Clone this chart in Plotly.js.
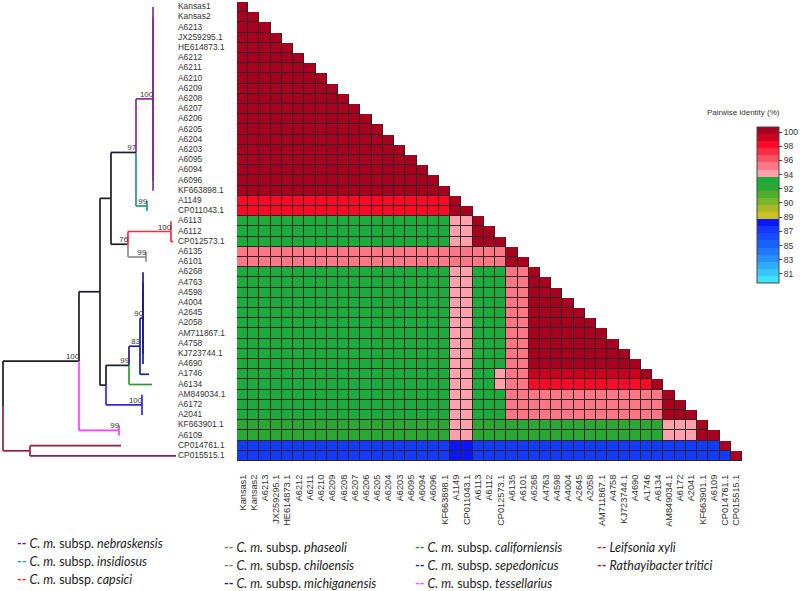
<!DOCTYPE html>
<html>
<head>
<meta charset="utf-8">
<script src="https://cdn.plot.ly/plotly-3.0.1.min.js"></script>
<style>html,body{margin:0;padding:0;background:#fff;}#chart{width:800px;height:591px;}</style>
</head>
<body>
<div id="chart"></div>
<script>
// ---------------- DATA ----------------
const strains = ['Kansas1','Kansas2','A6213','JX259295.1','HE614873.1','A6212','A6211','A6210','A6209','A6208',
  'A6207','A6206','A6205','A6204','A6203','A6095','A6094','A6096','KF663898.1','A1149','CP011043.1',
  'A6113','A6112','CP012573.1','A6135','A6101','A6268','A4763','A4598','A4004','A2645','A2058',
  'AM711867.1','A4758','KJ723744.1','A4690','A1746','A6134','AM849034.1','A6172','A2041',
  'KF663901.1','A6109','CP014761.1','CP015515.1'];

// pairwise identity codes, one string per row (lower triangle)
const identityCode = {D:100, d:99.2, R:98.3, S:95.5, P:94.5, G:93.5, g:92.6, B:87.9, b:86.9};
const identityRows = [
 'D',
 'DD',
 'DDD',
 'DDDD',
 'DDDDD',
 'DDDDD D',
 'DDDDD DD',
 'DDDDD DDD',
 'DDDDD DDDD',
 'DDDDD DDDDD',
 'DDDDD DDDDD D',
 'DDDDD DDDDD DD',
 'DDDDD DDDDD DDD',
 'DDDDD DDDDD DDDD',
 'DDDDD DDDDD DDDDD',
 'DDDDD DDDDD DDDDD D',
 'DDDDD DDDDD DDDDD DD',
 'DDDDD DDDDD DDDDD DDD',
 'DDDDD DDDDD DDDDD DDDD',
 'RRRRR RRRRR RRRRR RRRR D',
 'RRRRR RRRRR RRRRR RRRR DD',
 'GGGGG GGGGG GGGGG GGGG PP D',
 'GGGGG GGGGG GGGGG GGGG PP DD',
 'GGGGG GGGGG GGGGG GGGG PP DDD',
 'SSSSS SSSSS SSSSS SSSS SS SSS D',
 'SSSSS SSSSS SSSSS SSSS SS SSS DD',
 'GGGGG GGGGG GGGGG GGGG PP GGG SS D',
 'GGGGG GGGGG GGGGG GGGG PP GGG SS DD',
 'GGGGG GGGGG GGGGG GGGG PP GGG SS DDD',
 'GGGGG GGGGG GGGGG GGGG PP GGG SS DDDD',
 'GGGGG GGGGG GGGGG GGGG PP GGG SS DDDDD',
 'GGGGG GGGGG GGGGG GGGG PP GGG SS DDDDD D',
 'GGGGG GGGGG GGGGG GGGG PP GGG SS DDDDD DD',
 'GGGGG GGGGG GGGGG GGGG PP GGG SS DDDDD DDD',
 'GGGGG GGGGG GGGGG GGGG PP GGG SS DDDDD DDDD',
 'GGGGG GGGGG GGGGG GGGG PP GGG SS DDDDD DDDDD',
 'GGGGG GGGGG GGGGG GGGG PP GG P SS ddddd ddddd D',
 'GGGGG GGGGG GGGGG GGGG PP GG P SS RRRRR RRRRR R D',
 'GGGGG GGGGG GGGGG GGGG PP GGG SS SSSSS SSSSS SS D',
 'GGGGG GGGGG GGGGG GGGG PP GGG SS SSSSS SSSSS SS DD',
 'GGGGG GGGGG GGGGG GGGG PP GGG SS SSSSS SSSSS SS DDD',
 'ggggg ggggg ggggg gggg PP ggg gg ggggg ggggg gg PPP D',
 'ggggg ggggg ggggg gggg PP ggg gg ggggg ggggg gg PPP DD',
 'bbbbb bbbbb bbbbb bbbb BB bbb bb bbbbb bbbbb bb bbb bb D',
 'bbbbb bbbbb bbbbb bbbb BB bbb bb bbbbb bbbbb bb bbb bb b D'
];

// colour scale (22 bins, bottom to top) and its tick labels
const binColors = ['#3fe4ff','#37c6ff','#2faaff','#278fff','#2078ff','#1a62ff','#164dff','#1439ff','#0a16ff',
  '#c9c21f','#a9b923','#7db52a','#4fae30','#2ba833','#1aad3c',
  '#ffa1ac','#ff7686','#ff5265','#ff2c42','#ff0a26','#cc001f','#a9001f'];
const zMin = 79.78, zMax = 100.68;
const cbTickVals = [100, 98.1, 96.2, 94.3, 92.4, 90.5, 88.6, 86.7, 84.8, 82.9, 81.0];
const cbTickText = ['100','98','96','94','92','90','89','87','85','83','81'];

// tree: internal nodes
const treeNodes       = ['N','I','NI','C','P','CP','A','M90','M83','M99','S','Sep','B','T','R1','O','root'];
const treeNodeParent  = ['NI','NI','A','CP','CP','A','B','M83','M99','S','B','S','R1','R1','root','root',''];
const treeNodeDepth   = [153,147,136,171,146,128,111,143,140,129,106,142,100,119,79,30,3];
const treeNodeClade   = ['neb','ins','bb','cap','pha','bb','bb','mich','mich','bb','bb','sep','bb','tes','bb','out','bb'];
const treeNodeSupport = ['100','99','97','100','99','76','','90','83','99','','100','','99','100','',''];
// tree: leaves (same order as strains)
const leafParent = ['N','N','N','N','N','N','N','N','N','N','N','N','N','N','N','N','N','N','N',
  'I','I','C','C','C','P','P','M90','M90','M90','M90','M90','M90','M90','M90','M90','M90',
  'M83','M99','Sep','Sep','Sep','T','T','O','O'];
const leafDepth = [153,153,153,153,153,153,153,153,153,153,153,153,153,153,153,153,153,153,153,
  147,147,171,171,173,146,146,143,143,143,143,143,143,143,143,143,143,
  149,152,142,142,142,119,119,121,176];
const leafClade = ['neb','neb','neb','neb','neb','neb','neb','neb','neb','neb','neb','neb','neb','neb','neb','neb','neb','neb','neb',
  'ins','ins','cap','cap','cap','pha','pha','mich','mich','mich','mich','mich','mich','mich','mich','mich','mich',
  'mich','cal','sep','sep','sep','tes','tes','out','out'];

// legend
const legendKeys  = ['neb','ins','cap','pha','chi','mich','cal','sep','tes','leif','rath'];
const legendNames = ['nebraskensis','insidiosus','capsici','phaseoli','chiloensis','michiganensis',
  'californiensis','sepedonicus','tessellarius','Leifsonia xyli','Rathayibacter tritici'];

// ---------------- STYLE ----------------
const cladeColor = {neb:'#8b2a9e', ins:'#2a8f98', cap:'#ff2a40', pha:'#8f8f8f', mich:'#1e1e8c', cal:'#2e9a2e',
  sep:'#2b2be6', tes:'#ff3cff', out:'#8c1f3f', bb:'#1c1c2c'};
const legendColor = {neb:'#8b008b', ins:'#2a9d9d', cap:'#ff2020', pha:'#777777', chi:'#777777', mich:'#1a1a8c',
  cal:'#2e8b2e', sep:'#2020c8', tes:'#ff44ff', leif:'#a0302a', rath:'#8b1a1a'};

const W = 800, H = 591;
const px = v => v / W, py = v => 1 - v / H;

// ---------------- BUILD ----------------
const n = strains.length;
const idx = strains.map((s, i) => i + 1);
const z = [], zBorder = [];
identityRows.forEach((row, r) => {
  const s = row.replace(/\s/g, '');
  if (s.length !== r + 1) console.warn('row length mismatch', r + 1, s.length);
  const zr = [], br = [];
  for (let c = 0; c < n; c++) {
    if (c < s.length) { zr.push(identityCode[s[c]]); br.push(1); }
    else { zr.push(null); br.push(null); }
  }
  z.push(zr); zBorder.push(br);
});

const colorscale = [];
binColors.forEach((col, i) => {
  colorscale.push([i / binColors.length, col]);
  colorscale.push([(i + 1) / binColors.length, col]);
});

// tree geometry
const nodeIndex = {};
treeNodes.forEach((t, i) => nodeIndex[t] = i);
const nodeY = {};
function yOf(node) {
  if (nodeY[node] !== undefined) return nodeY[node];
  const ys = [];
  treeNodes.forEach((t, i) => { if (treeNodeParent[i] === node) ys.push(yOf(t)); });
  leafParent.forEach((p, i) => { if (p === node) ys.push(i + 1); });
  nodeY[node] = (Math.min(...ys) + Math.max(...ys)) / 2;
  return nodeY[node];
}
treeNodes.forEach(t => yOf(t));
const segs = {};
function addSeg(clade, x0, y0, x1, y1) {
  if (!segs[clade]) segs[clade] = {x: [], y: []};
  segs[clade].x.push(x0, x1, null);
  segs[clade].y.push(y0, y1, null);
}
treeNodes.forEach((t, i) => {
  const p = treeNodeParent[i];
  if (p) addSeg(treeNodeClade[i], treeNodeDepth[nodeIndex[p]], nodeY[t], treeNodeDepth[i], nodeY[t]);
  // vertical connectors coloured towards each child
  treeNodes.forEach((c, j) => {
    if (treeNodeParent[j] === t) addSeg(treeNodeClade[j], treeNodeDepth[i], nodeY[t], treeNodeDepth[i], nodeY[c]);
  });
  leafParent.forEach((lp, k) => {
    if (lp === t) addSeg(leafClade[k], treeNodeDepth[i], nodeY[t], treeNodeDepth[i], k + 1);
  });
});
leafParent.forEach((lp, k) => {
  const d0 = treeNodeDepth[nodeIndex[lp]];
  if (leafDepth[k] > d0) addSeg(leafClade[k], d0, k + 1, leafDepth[k], k + 1);
});

const traces = [];
// border layer
traces.push({type: 'heatmap', z: zBorder, x: idx, y: idx, colorscale: [[0, '#2e2424'], [1, '#2e2424']],
  showscale: false, hoverinfo: 'skip', xaxis: 'x', yaxis: 'y'});
// identity heatmap
traces.push({type: 'heatmap', z: z, x: idx, y: idx, zmin: zMin, zmax: zMax, colorscale: colorscale,
  xgap: 1, ygap: 1, xaxis: 'x', yaxis: 'y', hovertemplate: '%{z}%<extra></extra>',
  colorbar: {x: px(757), xanchor: 'left', xpad: 0, ypad: 0, y: py(205), yanchor: 'middle',
    thickness: 22, thicknessmode: 'pixels', len: 156, lenmode: 'pixels',
    outlinewidth: 1, outlinecolor: '#444', borderwidth: 0,
    tickmode: 'array', tickvals: cbTickVals, ticktext: cbTickText,
    ticks: 'outside', ticklen: 3, tickcolor: '#444', tickwidth: 1,
    tickfont: {family: 'Liberation Sans, Arial, sans-serif', size: 8.5, color: '#333'}}});
// tree branches
Object.keys(segs).forEach(cl => {
  traces.push({type: 'scatter', mode: 'lines', x: segs[cl].x, y: segs[cl].y, xaxis: 'x2', yaxis: 'y2',
    line: {color: cladeColor[cl], width: 1.7}, hoverinfo: 'skip', showlegend: false, cliponaxis: false});
});
// bootstrap values
const supX = [], supY = [], supT = [];
treeNodes.forEach((t, i) => { if (treeNodeSupport[i]) { supX.push(treeNodeDepth[i]); supY.push(nodeY[t]); supT.push(treeNodeSupport[i]); } });
traces.push({type: 'scatter', mode: 'text', x: supX, y: supY, text: supT, textposition: 'top left',
  textfont: {family: 'Liberation Sans, Arial, sans-serif', size: 7.8, color: '#333'},
  xaxis: 'x2', yaxis: 'y2', hoverinfo: 'skip', showlegend: false, cliponaxis: false});
// leaf labels
traces.push({type: 'scatter', mode: 'text', x: strains.map(() => 178), y: idx, text: strains,
  textposition: 'middle right', textfont: {family: 'Liberation Sans, Arial, sans-serif', size: 8.4, color: '#333'},
  xaxis: 'x2', yaxis: 'y', hoverinfo: 'skip', showlegend: false, cliponaxis: false});

// legend annotations
const colX = [15, 222, 413, 595];
const annotations = legendKeys.map((k, i) => {
  const col = Math.floor(i / 3), row = i % 3;
  const y0 = col === 0 ? 543 : 547;
  const name = (k === 'leif' || k === 'rath') ? `<i>${legendNames[i]}</i>` : `<i>C. m.</i> subsp. <i>${legendNames[i]}</i>`;
  return {xref: 'paper', yref: 'paper', x: px(colX[col]), y: py(y0 + row * 18), xanchor: 'left', yanchor: 'middle',
    showarrow: false, text: `<b><span style="color:${legendColor[k]}">--</span></b> ${name}`,
    font: {family: 'Lato, Open Sans, sans-serif', size: 12.5, color: '#222'}};
});
annotations.push({xref: 'paper', yref: 'paper', x: px(743), y: py(113), xanchor: 'center', yanchor: 'middle',
  showarrow: false, text: 'Pairwise identity (%)', font: {family: 'Liberation Sans, Arial, sans-serif', size: 8, color: '#333'}});

const layout = {
  width: W, height: H, margin: {l: 0, r: 0, t: 0, b: 0}, paper_bgcolor: '#fff', plot_bgcolor: 'rgba(0,0,0,0)',
  showlegend: false,
  xaxis: {domain: [px(237), px(742)], range: [0.5, 45.5], anchor: 'y', tickmode: 'array', tickvals: idx, ticktext: strains,
    tickangle: -90, ticks: 'outside', ticklen: 9, tickcolor: 'rgba(0,0,0,0)', showgrid: false, zeroline: false, showline: false,
    tickfont: {family: 'Liberation Sans, Arial, sans-serif', size: 9.2, color: '#333'}},
  yaxis: {domain: [py(461), py(2)], range: [45.5, 0.5], anchor: 'x', showticklabels: false, showgrid: false, zeroline: false, ticks: ''},
  xaxis2: {domain: [0, px(237)], range: [0, 237], anchor: 'y', visible: false},
  yaxis2: {domain: [py(464), py(1.9)], range: [45.5, 0.5], anchor: 'x2', visible: false, overlaying: 'y'},
  annotations: annotations
};

Plotly.newPlot('chart', traces, layout, {displayModeBar: false, staticPlot: true});
</script>
</body>
</html>
